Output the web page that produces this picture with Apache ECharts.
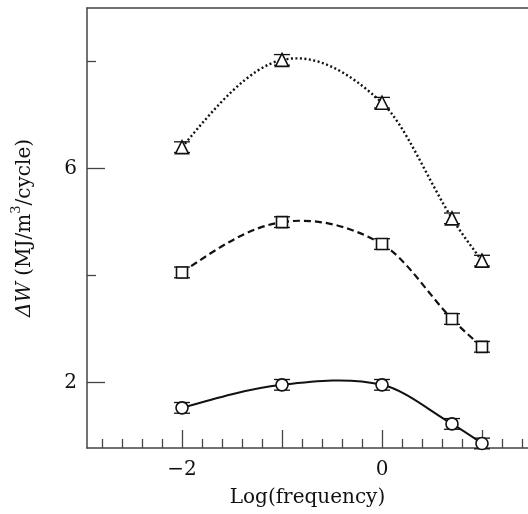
<!DOCTYPE html>
<html>
<head>
<meta charset="utf-8">
<script src="https://cdn.jsdelivr.net/npm/echarts@6/dist/echarts.min.js"></script>
<style>html,body{margin:0;padding:0;background:#fff;overflow:hidden}#c{width:528px;height:514px}</style>
</head>
<body>
<div id="c"></div>
<script>
var logFreq = [-2, -1, 0, 0.7, 1.0];
var triangleVals = [6.40, 8.03, 7.23, 5.07, 4.28];
var squareVals = [4.06, 5.00, 4.59, 3.19, 2.67];
var circleVals = [1.53, 1.96, 1.96, 1.23, 0.865];
var errorVals = [0.1, 0.1, 0.1, 0.1, 0.1];
var xMajorTicks = [-2, -1, 0, 1];
var xLabelTicks = [-2, 0];
var xMinorTicks = [-2.8, -2.6, -2.4, -2.2, -1.8, -1.6, -1.4, -1.2, -0.8, -0.6, -0.4, -0.2, 0.2, 0.4, 0.6, 0.8, 1.2, 1.4];
var yMajorTicks = [2, 6];
var yMinorTicks = [4, 8];

var FONT = 'DejaVu Serif';
var INK = '#111';
var AXIS = '#444';

function pairs(ys) { return logFreq.map(function (x, i) { return [x, ys[i]]; }); }
function errData(ys) { return logFreq.map(function (x, i) { return [x, ys[i], errorVals[i]]; }); }

// Hermite tangents (cardinal in x) for drawing a smooth curve through the data points
function tangents(xs, ys) {
  var n = xs.length, m = [], i;
  for (i = 1; i < n - 1; i++) m[i] = (ys[i + 1] - ys[i - 1]) / (xs[i + 1] - xs[i - 1]);
  var d0 = (ys[1] - ys[0]) / (xs[1] - xs[0]);
  var dn = (ys[n - 1] - ys[n - 2]) / (xs[n - 1] - xs[n - 2]);
  m[0] = (3 * d0 - m[1]) / 2;
  m[n - 1] = (3 * dn - m[n - 2]) / 2;
  return m;
}

function curveSeries(ys, dash, width) {
  var xs = logFreq;
  var m = tangents(xs, ys);
  return {
    type: 'custom', data: pairs(ys), z: 2, silent: true,
    renderItem: function (params, api) {
      var i = params.dataIndex;
      if (i >= xs.length - 1) return null;
      var h = xs[i + 1] - xs[i];
      var p0 = api.coord([xs[i], ys[i]]);
      var p1 = api.coord([xs[i + 1], ys[i + 1]]);
      var c1 = api.coord([xs[i] + h / 3, ys[i] + m[i] * h / 3]);
      var c2 = api.coord([xs[i + 1] - h / 3, ys[i + 1] - m[i + 1] * h / 3]);
      return {
        type: 'bezierCurve',
        shape: { x1: p0[0], y1: p0[1], x2: p1[0], y2: p1[1], cpx1: c1[0], cpy1: c1[1], cpx2: c2[0], cpy2: c2[1] },
        style: { stroke: INK, fill: null, lineWidth: width, lineDash: dash, lineCap: 'butt' }
      };
    }
  };
}

function markerSeries(ys, symbol, size) {
  return {
    type: 'scatter', data: pairs(ys), z: 4,
    symbol: symbol, symbolSize: size,
    itemStyle: { color: '#fff', borderColor: INK, borderWidth: 1.6, opacity: 1 },
    emphasis: { disabled: true }
  };
}

function errSeries(ys) {
  return {
    type: 'custom', data: errData(ys), z: 3, silent: true,
    renderItem: function (params, api) {
      var x = api.value(0), y = api.value(1), e = api.value(2);
      var top = api.coord([x, y + e]);
      var bot = api.coord([x, y - e]);
      var hw = 8;
      var st = { stroke: INK, lineWidth: 1.3 };
      return {
        type: 'group', children: [
          { type: 'line', shape: { x1: top[0], y1: top[1], x2: bot[0], y2: bot[1] }, style: st },
          { type: 'line', shape: { x1: top[0] - hw, y1: top[1], x2: top[0] + hw, y2: top[1] }, style: st },
          { type: 'line', shape: { x1: bot[0] - hw, y1: bot[1], x2: bot[0] + hw, y2: bot[1] }, style: st }
        ]
      };
    }
  };
}

var chart = echarts.init(document.getElementById('c'), null, { renderer: 'canvas' });
var xmin = -2.95, xmax = 1.46, ymin = 0.78, ymax = 9.0;
chart.setOption({
  animation: false,
  backgroundColor: '#fff',
  grid: { left: 87, top: 8, right: 0, bottom: 66, show: false },
  xAxis: [{
    type: 'value', min: xmin, max: xmax, position: 'bottom',
    axisLine: { show: true, onZero: false, lineStyle: { color: AXIS, width: 1.5 } },
    axisTick: { show: true, inside: true, length: 18, customValues: xMajorTicks, lineStyle: { color: AXIS, width: 1.3 } },
    axisLabel: { show: true, customValues: xLabelTicks, margin: 12, color: INK, fontFamily: FONT, fontSize: 20,
      formatter: function (v) { return v < 0 ? '\u2212' + Math.abs(v) : String(v); } },
    splitLine: { show: false },
    name: 'Log(frequency)', nameLocation: 'middle', nameGap: 40,
    nameTextStyle: { color: INK, fontFamily: FONT, fontSize: 20 }
  }, {
    type: 'value', min: xmin, max: xmax, position: 'bottom',
    axisLine: { show: false, onZero: false },
    axisTick: { show: true, inside: true, length: 9, customValues: xMinorTicks, lineStyle: { color: AXIS, width: 1.3 } },
    axisLabel: { show: false }, splitLine: { show: false }
  }, {
    type: 'value', min: xmin, max: xmax, position: 'top',
    axisLine: { show: true, onZero: false, lineStyle: { color: AXIS, width: 1.5 } },
    axisTick: { show: false }, axisLabel: { show: false }, splitLine: { show: false }
  }],
  yAxis: [{
    type: 'value', min: ymin, max: ymax, position: 'left',
    axisLine: { show: true, onZero: false, lineStyle: { color: AXIS, width: 1.5 } },
    axisTick: { show: true, inside: true, length: 18, customValues: yMajorTicks, lineStyle: { color: AXIS, width: 1.3 } },
    axisLabel: { show: true, customValues: yMajorTicks, margin: 10, color: INK, fontFamily: FONT, fontSize: 20 },
    splitLine: { show: false },
    name: '{i|\u0394W} {n|(MJ/m}{s|3}{n|/cycle)}', nameLocation: 'middle', nameGap: 52,
    nameTextStyle: {
      color: INK, fontFamily: FONT, fontSize: 20,
      rich: {
        i: { fontFamily: FONT, fontStyle: 'italic', fontSize: 20, color: INK, lineHeight: 25, verticalAlign: 'bottom' },
        n: { fontFamily: FONT, fontSize: 20, color: INK, lineHeight: 25, verticalAlign: 'bottom' },
        s: { fontFamily: FONT, fontSize: 13, color: INK, lineHeight: 25, verticalAlign: 'top' }
      }
    }
  }, {
    type: 'value', min: ymin, max: ymax, position: 'left',
    axisLine: { show: false, onZero: false },
    axisTick: { show: true, inside: true, length: 9, customValues: yMinorTicks, lineStyle: { color: AXIS, width: 1.3 } },
    axisLabel: { show: false }, splitLine: { show: false }
  }],
  series: [
    curveSeries(triangleVals, [2, 2.5], 2.4),
    curveSeries(squareVals, [7, 4], 2.2),
    curveSeries(circleVals, null, 2),
    errSeries(triangleVals), errSeries(squareVals), errSeries(circleVals),
    markerSeries(triangleVals, 'triangle', 13),
    markerSeries(squareVals, 'rect', 11),
    markerSeries(circleVals, 'circle', 12)
  ]
});
</script>
</body>
</html>
